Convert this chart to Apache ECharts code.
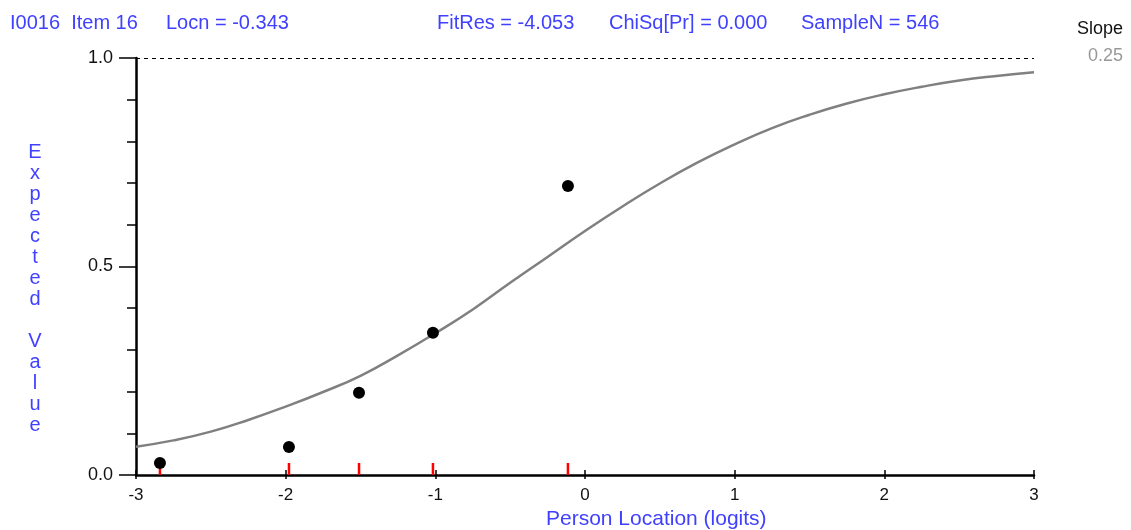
<!DOCTYPE html>
<html>
<head>
<meta charset="utf-8">
<style>html,body{margin:0;padding:0;background:#fff;}#c{width:1131px;height:530px;}</style>
<script src="https://cdn.jsdelivr.net/npm/echarts@6/dist/echarts.min.js"></script>
</head>
<body>
<div id="c"></div>
<script>
// Expected-value curve (logits, expected value)
const curveX = [-3,-2.75,-2.5,-2.25,-2,-1.75,-1.5,-1.25,-1,-0.75,-0.5,-0.25,0,0.25,0.5,0.75,1,1.25,1.5,1.75,2,2.25,2.5,2.75,3];
const curveY = [0.068,0.083,0.104,0.132,0.164,0.199,0.238,0.287,0.340,0.397,0.461,0.523,0.585,0.644,0.699,0.749,0.793,0.832,0.864,0.891,0.913,0.931,0.946,0.957,0.966];
// Observed class means
const obsX = [-2.84,-1.978,-1.51,-1.016,-0.114];
const obsY = [0.029,0.067,0.197,0.341,0.693];
// Class interval markers (red ticks)
const classX = [-2.84,-1.978,-1.51,-1.016,-0.114];
const xTicks = [-3,-2,-1,0,1,2,3];
const yTicks = [0,0.5,1];

const blue = '#4040ff';
const fontF = 'Liberation Sans, Arial, sans-serif';

const chart = echarts.init(document.getElementById('c'), null, {renderer:'canvas'});
chart.setOption({
  animation:false,
  backgroundColor:'#fff',
  grid:{left:136,right:97,top:58,bottom:55,containLabel:false},
  xAxis:[{
    type:'value',min:-3,max:3,interval:1,
    axisLine:{show:true,onZero:false,lineStyle:{color:'#000',width:2.5}},
    axisTick:{show:true,length:4,lineStyle:{color:'#000',width:1.5}},
    axisLabel:{show:true,margin:12,color:'#111',fontSize:17,fontFamily:fontF,
      formatter:v=>xTicks.includes(v)?String(v):''},
    splitLine:{show:false}
  },{
    type:'value',min:-3,max:3,interval:1,position:'bottom',
    axisLine:{show:false},
    axisTick:{show:true,inside:true,length:5,lineStyle:{color:'#000',width:1.5}},
    axisLabel:{show:false},splitLine:{show:false}
  }],
  yAxis:{
    type:'value',min:0,max:1,interval:0.5,
    axisLine:{show:true,onZero:false,lineStyle:{color:'#000',width:2.5}},
    axisTick:{show:true,length:17,lineStyle:{color:'#000',width:1.5}},
    minorTick:{show:true,splitNumber:5,length:9,lineStyle:{color:'#000',width:1.5}},
    axisLabel:{margin:23,color:'#111',fontSize:18,fontFamily:fontF,
      formatter:v=>yTicks.includes(v)?v.toFixed(1):''},
    splitLine:{show:false}
  },
  series:[
    {
      type:'line',smooth:true,showSymbol:false,symbol:'none',
      data:curveX.map((x,i)=>[x,curveY[i]]),
      lineStyle:{color:'#808080',width:2.5},
      markLine:{silent:true,symbol:['none','none'],label:{show:false},
        lineStyle:{color:'#000',type:[4,4],width:1},
        data:[{yAxis:1}]},
      z:2
    },
    {
      type:'scatter',symbol:'rect',symbolSize:[2.5,12],symbolOffset:[0,-6],
      data:classX.map(x=>[x,0]),itemStyle:{color:'#ff0000',opacity:1},z:3
    },
    {
      type:'scatter',symbol:'circle',symbolSize:12,
      data:obsX.map((x,i)=>[x,obsY[i]]),itemStyle:{color:'#000',opacity:1},z:4
    }
  ],
  graphic:[
    {type:'text',left:10,top:13,style:{text:'I0016  Item 16',fill:blue,font:'20px '+fontF}},
    {type:'text',left:166,top:13,style:{text:'Locn = -0.343',fill:blue,font:'20px '+fontF}},
    {type:'text',left:437,top:13,style:{text:'FitRes = -4.053',fill:blue,font:'20px '+fontF}},
    {type:'text',left:609,top:13,style:{text:'ChiSq[Pr] = 0.000',fill:blue,font:'20px '+fontF}},
    {type:'text',left:801,top:13,style:{text:'SampleN = 546',fill:blue,font:'20px '+fontF}},
    {type:'text',left:1077,top:20,style:{text:'Slope',fill:'#111',font:'18px '+fontF}},
    {type:'text',left:1088,top:47,style:{text:'0.25',fill:'#999',font:'18px '+fontF}},
    {type:'text',left:546,top:509,style:{text:'Person Location (logits)',fill:blue,font:'21px '+fontF}},
    {type:'text',x:35,y:289,style:{text:'E\nx\np\ne\nc\nt\ne\nd\n \nV\na\nl\nu\ne',fill:blue,font:'20px '+fontF,
      lineHeight:21,align:'center',verticalAlign:'middle'}}
  ]
});
</script>
</body>
</html>
